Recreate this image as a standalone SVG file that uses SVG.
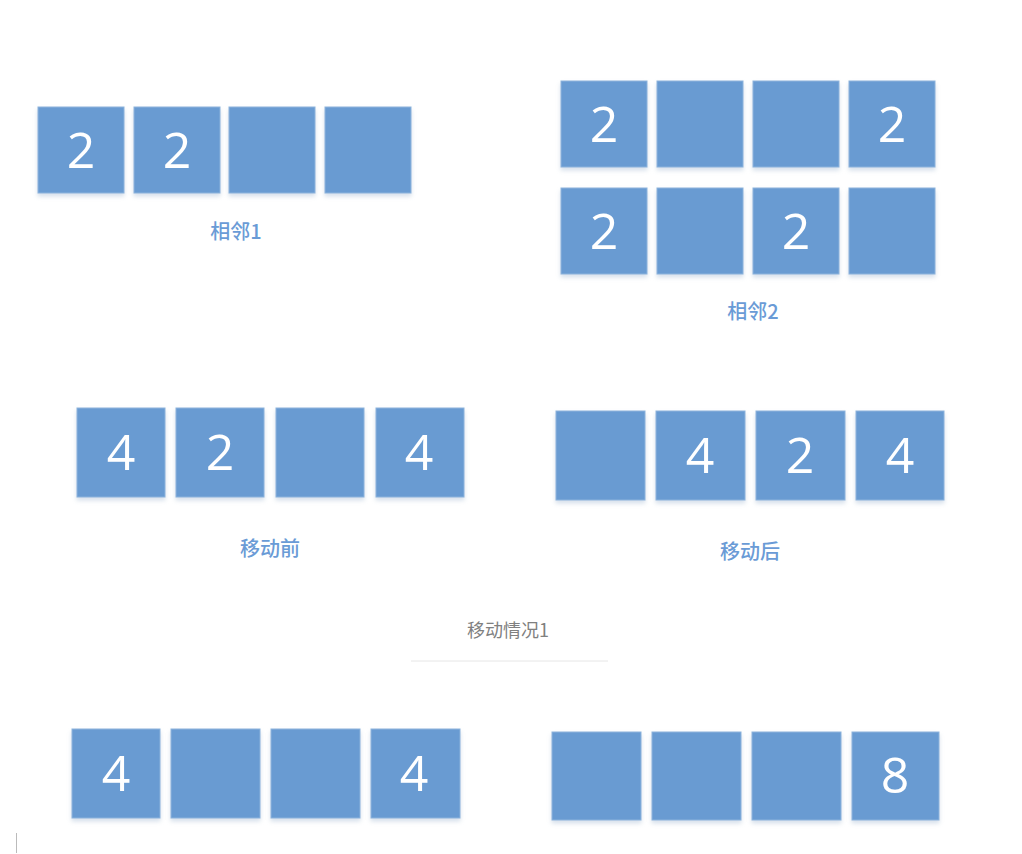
<svg xmlns="http://www.w3.org/2000/svg" width="1022" height="854" viewBox="0 0 1022 854">
<defs>
<filter id="sh" x="-10%" y="-10%" width="120%" height="125%">
<feDropShadow dx="0" dy="3" stdDeviation="2" flood-color="#8aa6c8" flood-opacity="0.35"/>
</filter>
</defs>
<style>
.b{fill:#699BD2;stroke:#8db3dc;stroke-width:1;filter:url(#sh)}
.n{font-family:"Open Sans","Noto Sans",sans-serif;font-size:50px;fill:#ffffff;text-anchor:middle}
.l{font-family:"Noto Sans CJK SC","Noto Sans",sans-serif;font-size:20px;font-weight:500;fill:#6a9bd6;text-anchor:middle}
.c{font-family:"Noto Sans CJK SC","Noto Sans",sans-serif;font-size:18px;fill:#808080;text-anchor:middle}
</style>
<rect width="1022" height="854" fill="#ffffff"/>
<g id="adjacent1">
<rect class="b" x="38" y="107" width="86" height="86"/><text class="n" x="81" y="168">2</text>
<rect class="b" x="134" y="107" width="86" height="86"/><text class="n" x="177" y="168">2</text>
<rect class="b" x="229" y="107" width="86" height="86"/>
<rect class="b" x="325" y="107" width="86" height="86"/>
<text class="l" x="236" y="239">相邻1</text>
</g>
<g id="adjacent2">
<rect class="b" x="561" y="81" width="86" height="86"/><text class="n" x="604" y="142">2</text>
<rect class="b" x="657" y="81" width="86" height="86"/>
<rect class="b" x="753" y="81" width="86" height="86"/>
<rect class="b" x="849" y="81" width="86" height="86"/><text class="n" x="892" y="142">2</text>
<rect class="b" x="561" y="188" width="86" height="86"/><text class="n" x="604" y="249">2</text>
<rect class="b" x="657" y="188" width="86" height="86"/>
<rect class="b" x="753" y="188" width="86" height="86"/><text class="n" x="796" y="249">2</text>
<rect class="b" x="849" y="188" width="86" height="86"/>
<text class="l" x="753" y="319">相邻2</text>
</g>
<g id="before">
<rect class="b" x="77" y="408" width="88" height="89"/><text class="n" x="121" y="470">4</text>
<rect class="b" x="176" y="408" width="88" height="89"/><text class="n" x="220" y="470">2</text>
<rect class="b" x="276" y="408" width="88" height="89"/>
<rect class="b" x="376" y="408" width="88" height="89"/><text class="n" x="419" y="470">4</text>
<text class="l" x="270" y="556">移动前</text>
</g>
<g id="after">
<rect class="b" x="556" y="411" width="89" height="89"/>
<rect class="b" x="656" y="411" width="89" height="89"/><text class="n" x="700" y="473">4</text>
<rect class="b" x="756" y="411" width="89" height="89"/><text class="n" x="800" y="473">2</text>
<rect class="b" x="856" y="411" width="88" height="89"/><text class="n" x="900" y="473">4</text>
<text class="l" x="750" y="559">移动后</text>
</g>
<g id="caption">
<text class="c" x="508" y="637">移动情况1</text>
<line x1="411" y1="661" x2="608" y2="661" stroke="#e6e6e6" stroke-width="1"/>
</g>
<g id="case2a">
<rect class="b" x="72" y="729" width="88" height="89"/><text class="n" x="116" y="791">4</text>
<rect class="b" x="171" y="729" width="89" height="89"/>
<rect class="b" x="271" y="729" width="89" height="89"/>
<rect class="b" x="371" y="729" width="89" height="89"/><text class="n" x="414" y="791">4</text>
</g>
<g id="case2b">
<rect class="b" x="552" y="732" width="89" height="88"/>
<rect class="b" x="652" y="732" width="89" height="88"/>
<rect class="b" x="752" y="732" width="89" height="88"/>
<rect class="b" x="852" y="732" width="87" height="88"/><text class="n" x="895" y="793">8</text>
</g>
<g id="connectors"></g>
<line x1="16.5" y1="833" x2="16.5" y2="853" stroke="#bbbbbb" stroke-width="1"/>
</svg>
